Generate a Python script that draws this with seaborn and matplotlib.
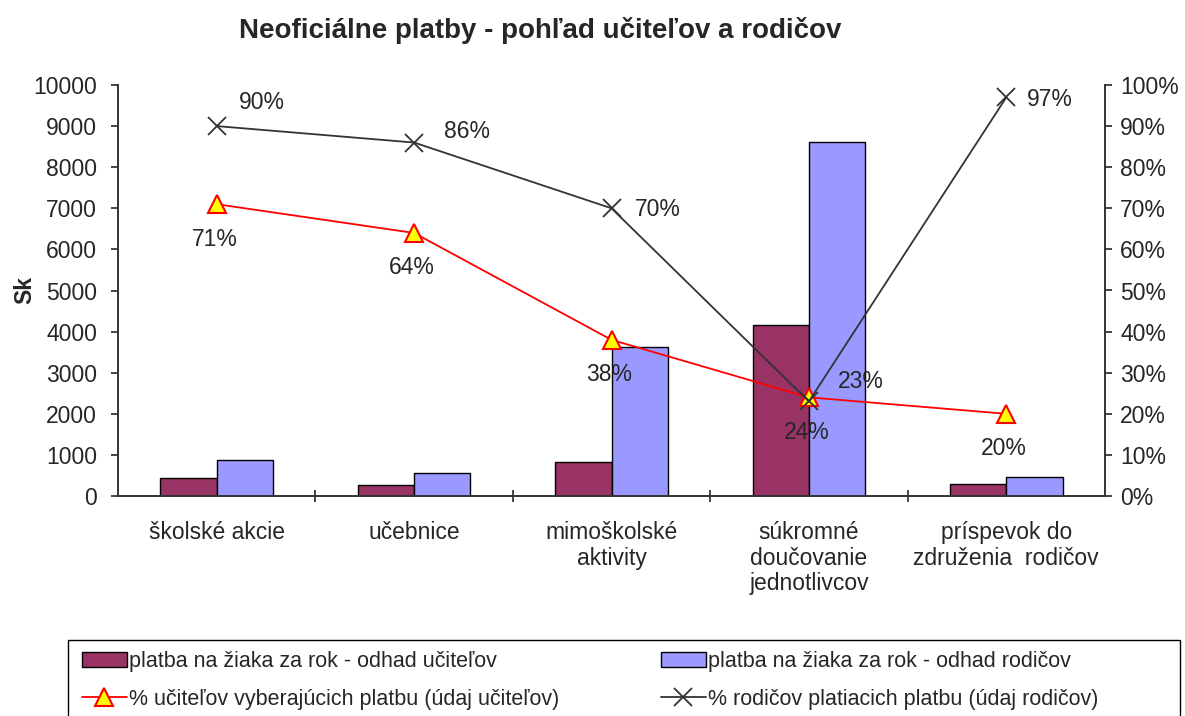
import numpy as np
import pandas as pd
import matplotlib.pyplot as plt
import seaborn as sns
from matplotlib.patches import Rectangle
from matplotlib.ticker import PercentFormatter, MultipleLocator, FixedLocator

# Data
categories = ["školské akcie", "učebnice", "mimoškolské\naktivity",
              "súkromné\ndoučovanie\njednotlivcov", "príspevok do\nzdruženia  rodičov"]
teacher_pay = [440, 270, 830, 4160, 290]
parent_pay = [880, 560, 3620, 8610, 460]
teacher_pct = [71, 64, 38, 24, 20]
parent_pct = [90, 86, 70, 23, 97]

bar_names = ["platba na žiaka za rok - odhad učiteľov", "platba na žiaka za rok - odhad rodičov"]
line_names = ["% učiteľov vyberajúcich platbu (údaj učiteľov)", "% rodičov platiacich platbu (údaj rodičov)"]

FS = 16.5

sns.set_style("white")
plt.rcParams['font.family'] = ['Liberation Sans', 'DejaVu Sans']

# Long table for the grouped bars
bars_df = pd.DataFrame({
    "cat": categories * 2,
    "val": teacher_pay + parent_pay,
    "series": [bar_names[0]] * 5 + [bar_names[1]] * 5,
})

fig = plt.figure(figsize=(11.85, 7.16), dpi=100)
ax = fig.add_axes([118 / 1185, 1 - 496 / 716, (1105 - 118) / 1185, (496 - 85) / 716])

sns.barplot(data=bars_df, x="cat", y="val", hue="series", order=categories,
            palette=["#993366", "#9999FF"], width=0.57, edgecolor="black",
            linewidth=1.0, saturation=1, ax=ax)
bar_handles, bar_labels = ax.get_legend_handles_labels()
ax.get_legend().remove()

ax.set_xlim(-0.5, 4.5)
ax.set_ylim(0, 10000)
ax.yaxis.set_major_locator(MultipleLocator(1000))
ax.set_xlabel("")
ax.set_ylabel("Sk", fontsize=FS, fontweight="bold")
ax.yaxis.set_label_coords(-0.083, 0.5)
ax.tick_params(axis="y", labelsize=FS, length=5, width=1.2, direction="out", pad=10, left=True)
ax.tick_params(axis="x", which="major", labelsize=FS, length=0, pad=18)
ax.set_xticks(range(5))
ax.set_xticklabels(categories, linespacing=1.15, va="top")
ax.xaxis.set_minor_locator(FixedLocator([0.5, 1.5, 2.5, 3.5]))
ax.tick_params(axis="x", which="minor", length=8, width=1.2, direction="inout", bottom=True)

for side in ["left", "bottom", "right"]:
    ax.spines[side].set_color("#333333")
    ax.spines[side].set_linewidth(1.2)
ax.spines["top"].set_visible(False)

# Percent lines on the secondary axis
ax2 = ax.twinx()
xs = np.arange(5)
sns.lineplot(x=xs, y=np.array(teacher_pct) / 100, ax=ax2, color="#FF0000", linewidth=1.3,
             marker="^", markersize=13, markerfacecolor="#FFFF00", markeredgecolor="#FF0000",
             markeredgewidth=1.5, label=line_names[0])
sns.lineplot(x=xs, y=np.array(parent_pct) / 100, ax=ax2, color="#333333", linewidth=1.3,
             marker="x", markersize=13, markeredgewidth=1.3, markeredgecolor="#333333",
             label=line_names[1])
line_handles, line_labels = ax2.get_legend_handles_labels()
ax2.get_legend().remove()

ax2.set_ylim(0, 1)
ax2.yaxis.set_major_locator(MultipleLocator(0.1))
ax2.yaxis.set_major_formatter(PercentFormatter(1.0, decimals=0))
ax2.tick_params(axis="y", labelsize=FS, length=5, width=1.2, direction="out", pad=6, right=True)
ax2.set_ylabel("")
for side in ["left", "bottom", "right"]:
    ax2.spines[side].set_color("#333333")
    ax2.spines[side].set_linewidth(1.2)
ax2.spines["top"].set_visible(False)

# Value labels
for i, v in enumerate(teacher_pct):
    ax2.annotate(f"{v}%", (i, v / 100), xytext=(-2, -35), textcoords="offset pixels",
                 ha="center", va="center", fontsize=FS)
parent_offsets = [(45, 24), (53, 11), (46, -1), (52, 20), (44, -2)]
for i, v in enumerate(parent_pct):
    ax2.annotate(f"{v}%", (i, v / 100), xytext=parent_offsets[i], textcoords="offset pixels",
                 ha="center", va="center", fontsize=FS)

fig.text(540 / 1185, 1 - 30 / 716, "Neoficiálne platby - pohľad učiteľov a rodičov",
         ha="center", va="center", fontsize=20, fontweight="bold")

# Legend box runs past the bottom edge, as in the original
fig.patches.append(Rectangle((68 / 1185, -0.05), (1180 - 68) / 1185, 0.05 + 76 / 716,
                             transform=fig.transFigure, fill=False, edgecolor="black",
                             linewidth=1.0))

handles = [bar_handles[0], line_handles[0], bar_handles[1], line_handles[1]]
labels = [bar_names[0], line_names[0], bar_names[1], line_names[1]]
leg = fig.legend(handles, labels, loc="upper left", ncol=2,
                 bbox_to_anchor=(71 / 1185, 1 - 640 / 716),
                 fontsize=15.5, frameon=False,
                 borderpad=0.5, labelspacing=0.8, handlelength=2.1, handletextpad=0.1,
                 columnspacing=4.7, borderaxespad=0)

fig.savefig("out.png", dpi=100)
